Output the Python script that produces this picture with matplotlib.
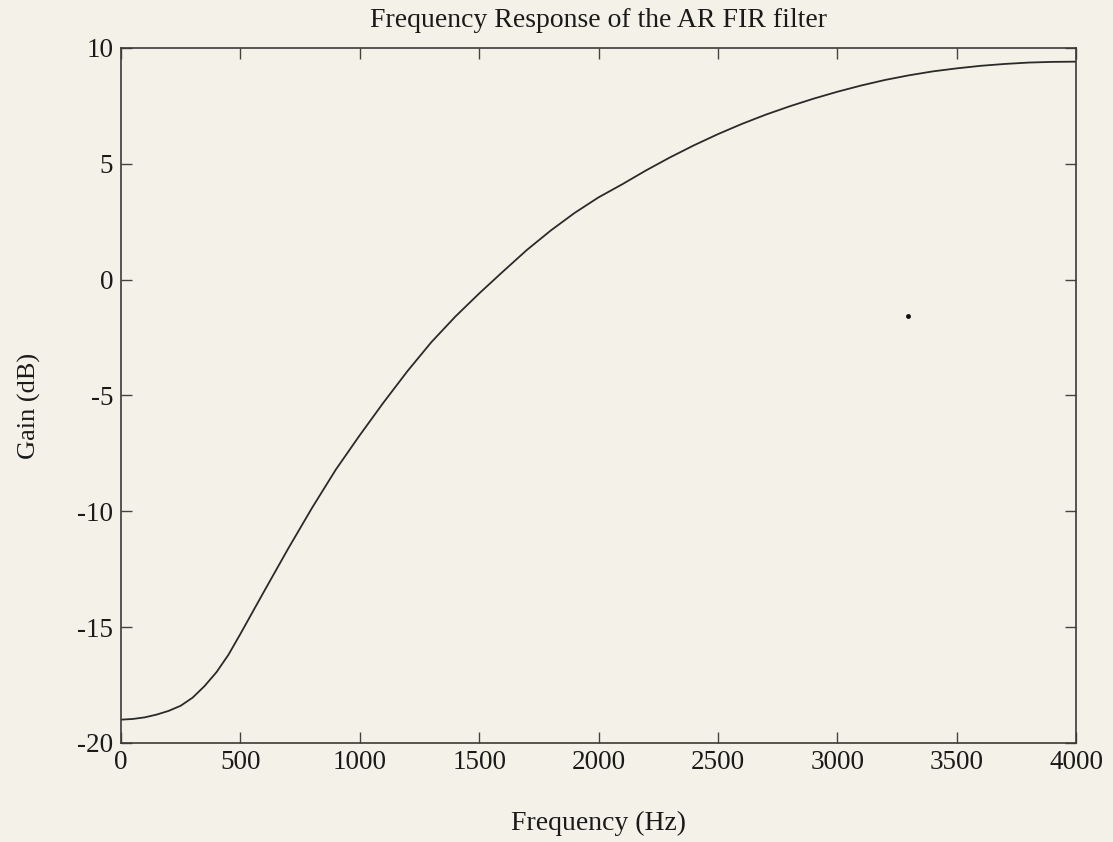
import matplotlib
matplotlib.use("Agg")
import matplotlib.pyplot as plt

# Data
freq_hz = [0, 50, 100, 150, 200, 250, 300, 350, 400, 450, 500, 600, 700, 800, 900, 1000,
           1100, 1200, 1300, 1400, 1500, 1600, 1700, 1800, 1900, 2000,
           2100, 2200, 2300, 2400, 2500, 2600, 2700, 2800, 2900, 3000,
           3100, 3200, 3300, 3400, 3500, 3600, 3700, 3800, 3900, 4000]
gain_db = [-19.00, -18.97, -18.90, -18.78, -18.62, -18.40, -18.05, -17.55, -16.95, -16.20, -15.30,
           -13.45, -11.62, -9.86, -8.20, -6.72,
           -5.30, -3.95, -2.70, -1.60, -0.60, 0.35, 1.28, 2.12, 2.88, 3.55,
           4.12, 4.72, 5.28, 5.80, 6.28, 6.72, 7.12, 7.48, 7.81, 8.11,
           8.38, 8.62, 8.82, 8.99, 9.12, 9.23, 9.31, 9.37, 9.40, 9.41]
speck_x = [3296]
speck_y = [-1.57]

x_ticks = [0, 500, 1000, 1500, 2000, 2500, 3000, 3500, 4000]
y_ticks = [-20, -15, -10, -5, 0, 5, 10]

plt.rcParams['font.family'] = ['Liberation Serif', 'DejaVu Serif']
plt.rcParams['axes.unicode_minus'] = False
bg = '#f4f2e8'
fig = plt.figure(figsize=(11.13, 8.42), dpi=100, facecolor=bg)
ax = fig.add_axes([0.1087, 0.1178, 0.8581, 0.8252], facecolor=bg)

ax.plot(freq_hz, gain_db, color='#2a2a2a', lw=1.3)
ax.plot(speck_x, speck_y, 'o', color='#111111', ms=2.5)

ax.set_xlim(0, 4000)
ax.set_ylim(-20, 10)
ax.set_xticks(x_ticks)
ax.set_yticks(y_ticks)
ax.tick_params(direction='in', length=8, width=1.0, color='#444444',
               top=True, right=True, labelsize=19.5, pad=5.5, labelcolor='#1a1a1a')
for s in ax.spines.values():
    s.set_color('#3a3a3a')
    s.set_linewidth(1.2)

ax.set_title('Frequency Response of the AR FIR filter', fontsize=20, pad=15, color='#1a1a1a')
ax.set_xlabel('Frequency (Hz)', fontsize=20, color='#1a1a1a')
ax.set_ylabel('Gain (dB)', fontsize=19, color='#1a1a1a')
ax.xaxis.set_label_coords(0.5, -0.098)
ax.yaxis.set_label_coords(-0.084, 0.485)

fig.savefig('out.png', dpi=100, facecolor=bg)
